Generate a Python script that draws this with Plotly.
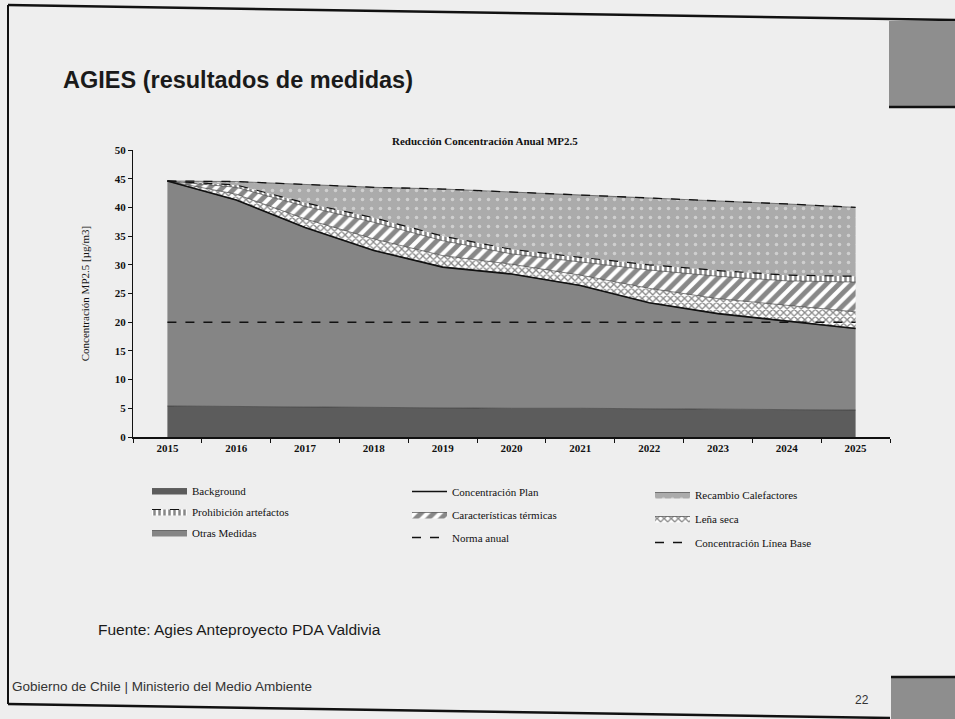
import plotly.graph_objects as go

years = ["2015", "2016", "2017", "2018", "2019", "2020", "2021", "2022", "2023", "2024", "2025"]

background = [5.4, 5.3, 5.3, 5.2, 5.1, 5.0, 5.0, 4.9, 4.8, 4.8, 4.7]
otras_medidas = [39.2, 36.0, 31.2, 27.3, 24.5, 23.4, 21.4, 18.5, 16.7, 15.4, 14.2]
lena_seca = [0.0, 1.0, 1.5, 2.0, 2.0, 1.7, 1.8, 2.5, 2.6, 2.7, 2.9]
caract_termicas = [0.0, 1.2, 2.2, 2.9, 2.6, 1.8, 2.3, 3.2, 3.9, 4.3, 5.2]
prohibicion = [0.0, 0.4, 0.6, 0.8, 0.8, 0.8, 0.8, 0.9, 1.0, 1.0, 1.0]
recambio = [0.0, 0.6, 3.2, 5.3, 8.2, 10.0, 10.9, 11.7, 12.2, 12.4, 12.0]

conc_plan = [44.6, 41.3, 36.5, 32.5, 29.6, 28.4, 26.4, 23.4, 21.5, 20.2, 18.9]
conc_linea_base = [44.6, 44.5, 44.0, 43.5, 43.2, 42.7, 42.2, 41.7, 41.2, 40.6, 40.0]
norma_anual = [20, 20, 20, 20, 20, 20, 20, 20, 20, 20, 20]

y_ticks = [0, 5, 10, 15, 20, 25, 30, 35, 40, 45, 50]

W, H = 955, 719
L, R, T, B = 133, 65, 150, 282
PW, PH = W - L - R, H - T - B


def px(x):
    return (x - L) / PW


def py(y):
    return (H - B - y) / PH


SERIF = "Liberation Serif, DejaVu Serif, serif"
SANS = "Liberation Sans, Arial, sans-serif"

fig = go.Figure()

stack_line = dict(color="#333333", width=0.6)

fig.add_trace(go.Scatter(x=years, y=background, name="Background", stackgroup="s",
                         mode="lines", line=stack_line, fillcolor="#5c5c5c",
                         legend="legend", legendrank=1, legendgroup="g1"))
fig.add_trace(go.Scatter(x=years, y=otras_medidas, name="Otras Medidas", stackgroup="s",
                         mode="lines", line=stack_line, fillcolor="#858585",
                         legend="legend", legendrank=3, legendgroup="g3"))
fig.add_trace(go.Scatter(x=years, y=lena_seca, name="Leña seca", stackgroup="s",
                         mode="lines", line=stack_line, fillcolor="#ffffff",
                         fillpattern=dict(shape="x", fgcolor="#111111", bgcolor="#ffffff",
                                          size=5, solidity=0.45),
                         legend="legend3", legendrank=2, legendgroup="g8"))
fig.add_trace(go.Scatter(x=years, y=caract_termicas, name="Características térmicas", stackgroup="s",
                         mode="lines", line=stack_line, fillcolor="#ffffff",
                         fillpattern=dict(shape="/", fgcolor="#111111", bgcolor="#ffffff",
                                          size=9, solidity=0.55),
                         legend="legend2", legendrank=2, legendgroup="g5"))
fig.add_trace(go.Scatter(x=years, y=prohibicion, name="Prohibición artefactos", stackgroup="s",
                         mode="lines", line=dict(color="#111111", width=1.2, dash="dash"),
                         fillcolor="#ffffff",
                         fillpattern=dict(shape="|", fgcolor="#111111", bgcolor="#ffffff",
                                          size=5, solidity=0.5),
                         legend="legend", legendrank=2, legendgroup="g2"))
fig.add_trace(go.Scatter(x=years, y=recambio, name="Recambio Calefactores", stackgroup="s",
                         mode="lines", line=stack_line, fillcolor="#adadad",
                         fillpattern=dict(shape=".", fgcolor="#f4f4f4", bgcolor="#ababab",
                                          size=9, solidity=0.12),
                         legend="legend3", legendrank=1, legendgroup="g7"))

fig.add_trace(go.Scatter(x=years, y=conc_plan, name="Concentración Plan", mode="lines",
                         line=dict(color="#111111", width=1.6),
                         legend="legend2", legendrank=1, legendgroup="g4"))
fig.add_trace(go.Scatter(x=years, y=norma_anual, name="Norma anual", mode="lines",
                         line=dict(color="#111111", width=1.4, dash="dash"),
                         legend="legend2", legendrank=3, legendgroup="g6"))
fig.add_trace(go.Scatter(x=years, y=conc_linea_base, name="Concentración Línea Base", mode="lines",
                         line=dict(color="#111111", width=1.3, dash="dash"),
                         legend="legend3", legendrank=3, legendgroup="g9"))

leg_common = dict(orientation="v", traceorder="grouped", xanchor="left", yanchor="top",
                  bgcolor="rgba(0,0,0,0)", font=dict(family=SERIF, size=11, color="#111111"),
                  itemwidth=35)

fig.update_layout(
    width=W, height=H,
    margin=dict(l=L, r=R, t=T, b=B, autoexpand=False),
    paper_bgcolor="#eeeeee",
    plot_bgcolor="rgba(0,0,0,0)",
    showlegend=True,
    legend=dict(x=px(147), y=py(476), tracegroupgap=2, **leg_common),
    legend2=dict(x=px(407), y=py(477), tracegroupgap=4, **leg_common),
    legend3=dict(x=px(650), y=py(480), tracegroupgap=5, **leg_common),
    xaxis=dict(type="category", range=[-0.5, 10.5], tickson="boundaries",
               ticks="outside", ticklen=4, tickcolor="#111111",
               showline=True, linecolor="#111111", linewidth=1.5,
               showgrid=False, zeroline=False, automargin=False,
               tickfont=dict(family=SERIF, size=11, color="#111111", weight="bold")),
    yaxis=dict(range=[0, 50], tickvals=y_ticks, ticks="outside", ticklen=4,
               tickcolor="#111111", showline=True, linecolor="#111111", linewidth=1,
               showgrid=False, zeroline=False, automargin=False,
               tickfont=dict(family=SERIF, size=11, color="#111111", weight="bold"),
               title=dict(text="Concentración MP2.5 [µg/m3]", standoff=22,
                          font=dict(family=SERIF, size=11, color="#111111"))),
)

shapes = [
    # slide border (photo)
    dict(type="line", xref="paper", yref="paper", x0=px(8), y0=py(5), x1=px(955), y1=py(20),
         line=dict(color="#111111", width=2.5)),
    dict(type="line", xref="paper", yref="paper", x0=px(8), y0=py(5), x1=px(8), y1=py(704),
         line=dict(color="#111111", width=2)),
    dict(type="line", xref="paper", yref="paper", x0=px(8), y0=py(704), x1=px(890), y1=py(718),
         line=dict(color="#111111", width=2.5)),
    # gray squares at right
    dict(type="rect", xref="paper", yref="paper", x0=px(889), y0=py(107), x1=px(956), y1=py(21),
         fillcolor="#8e8e8e", line=dict(width=0)),
    dict(type="line", xref="paper", yref="paper", x0=px(889), y0=py(107), x1=px(956), y1=py(107),
         line=dict(color="#111111", width=2.5)),
    dict(type="rect", xref="paper", yref="paper", x0=px(891), y0=py(720), x1=px(956), y1=py(677),
         fillcolor="#8e8e8e", line=dict(width=0)),
    dict(type="line", xref="paper", yref="paper", x0=px(891), y0=py(677), x1=px(956), y1=py(677),
         line=dict(color="#111111", width=2.5)),
]
fig.update_layout(shapes=shapes)

annotations = [
    dict(text="<b>AGIES (resultados de medidas)</b>", x=px(61), y=py(80), xanchor="left",
         yanchor="middle", font=dict(family=SANS, size=23.5, color="#1a1a1a")),
    dict(text="<b>Reducción Concentración Anual MP2.5</b>", x=px(485), y=py(141), xanchor="center",
         yanchor="middle", font=dict(family=SERIF, size=11, color="#111111")),
    dict(text="Fuente: Agies Anteproyecto PDA Valdivia", x=px(96), y=py(629), xanchor="left",
         yanchor="middle", font=dict(family=SANS, size=15.5, color="#1a1a1a")),
    dict(text="Gobierno de Chile | Ministerio del Medio Ambiente", x=px(10), y=py(686), xanchor="left",
         yanchor="middle", font=dict(family=SANS, size=13.5, color="#333333")),
    dict(text="22", x=px(862), y=py(700), xanchor="center", yanchor="middle",
         font=dict(family=SANS, size=12, color="#333333")),
]
for a in annotations:
    a.update(xref="paper", yref="paper", showarrow=False)
fig.update_layout(annotations=annotations)

fig.write_html("out.html", config={"displayModeBar": False},
               post_script="document.body.style.margin='0';document.body.style.overflow='hidden';")
